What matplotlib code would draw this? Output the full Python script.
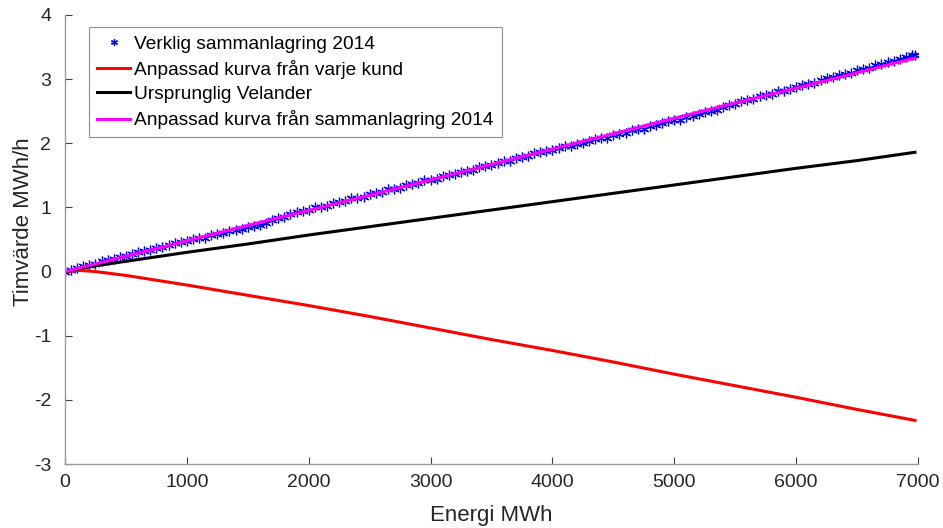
import matplotlib
matplotlib.use("Agg")
import matplotlib.pyplot as plt

plt.rcParams["font.family"] = ["Liberation Sans", "DejaVu Sans"]
plt.rcParams["axes.unicode_minus"] = False

# Measured aggregated load (hourly value vs. energy), 2014
energy_meas = [
    0, 50, 100, 150, 200, 250, 300, 350, 400, 450,
    500, 550, 600, 650, 700, 750, 800, 850, 900, 950,
    1000, 1050, 1100, 1150, 1200, 1250, 1300, 1350, 1400, 1450,
    1500, 1550, 1600, 1650, 1700, 1750, 1800, 1850, 1900, 1950,
    2000, 2050, 2100, 2150, 2200, 2250, 2300, 2350, 2400, 2450,
    2500, 2550, 2600, 2650, 2700, 2750, 2800, 2850, 2900, 2950,
    3000, 3050, 3100, 3150, 3200, 3250, 3300, 3350, 3400, 3450,
    3500, 3550, 3600, 3650, 3700, 3750, 3800, 3850, 3900, 3950,
    4000, 4050, 4100, 4150, 4200, 4250, 4300, 4350, 4400, 4450,
    4500, 4550, 4600, 4650, 4700, 4750, 4800, 4850, 4900, 4950,
    5000, 5050, 5100, 5150, 5200, 5250, 5300, 5350, 5400, 5450,
    5500, 5550, 5600, 5650, 5700, 5750, 5800, 5850, 5900, 5950,
    6000, 6050, 6100, 6150, 6200, 6250, 6300, 6350, 6400, 6450,
    6500, 6550, 6600, 6650, 6700, 6750, 6800, 6850, 6900, 6950,
    6975,
]
value_meas = [
    0.00, 0.03, 0.05, 0.09, 0.10, 0.12, 0.16, 0.18, 0.19, 0.23,
    0.25, 0.27, 0.31, 0.32, 0.33, 0.37, 0.39, 0.41, 0.45, 0.46,
    0.48, 0.51, 0.52, 0.53, 0.57, 0.59, 0.60, 0.64, 0.65, 0.66,
    0.70, 0.71, 0.73, 0.76, 0.80, 0.83, 0.85, 0.89, 0.93, 0.95,
    0.96, 1.00, 1.01, 1.03, 1.07, 1.08, 1.10, 1.14, 1.15, 1.17,
    1.21, 1.23, 1.24, 1.28, 1.29, 1.31, 1.35, 1.36, 1.38, 1.42,
    1.43, 1.45, 1.49, 1.50, 1.52, 1.56, 1.57, 1.59, 1.63, 1.65,
    1.66, 1.70, 1.72, 1.73, 1.77, 1.79, 1.80, 1.85, 1.86, 1.88,
    1.90, 1.93, 1.95, 1.96, 1.99, 2.01, 2.03, 2.07, 2.08, 2.09,
    2.13, 2.15, 2.16, 2.20, 2.22, 2.23, 2.27, 2.29, 2.31, 2.35,
    2.36, 2.37, 2.41, 2.43, 2.45, 2.49, 2.51, 2.52, 2.57, 2.59,
    2.61, 2.66, 2.68, 2.69, 2.73, 2.75, 2.77, 2.81, 2.82, 2.84,
    2.88, 2.91, 2.93, 2.94, 2.99, 3.01, 3.03, 3.07, 3.08, 3.10,
    3.14, 3.16, 3.18, 3.22, 3.24, 3.26, 3.29, 3.32, 3.35, 3.37,
    3.38,
]

# Fitted curves evaluated on a common energy grid
energy_fit = [0, 100, 250, 500, 1000, 1500, 2000, 2500, 3000, 3500,
              4000, 4500, 5000, 5500, 6000, 6500, 6975]
fit_each_customer = [0.00, 0.02, 0.00, -0.06, -0.21, -0.37, -0.53, -0.70,
                     -0.88, -1.06, -1.23, -1.41, -1.60, -1.78, -1.96,
                     -2.15, -2.32]
velander_original = [0.00, 0.04, 0.09, 0.16, 0.30, 0.43, 0.57, 0.70,
                      0.83, 0.96, 1.09, 1.22, 1.35, 1.48, 1.61, 1.73,
                      1.86]
fit_aggregated = [0.00, 0.05, 0.12, 0.24, 0.48, 0.72, 0.955, 1.19, 1.43,
                  1.67, 1.91, 2.15, 2.39, 2.63, 2.86, 3.10, 3.33]

series_labels = [
    "Verklig sammanlagring 2014",
    "Anpassad kurva från varje kund",
    "Ursprunglig Velander",
    "Anpassad kurva från sammanlagring 2014",
]
x_ticks = [0, 1000, 2000, 3000, 4000, 5000, 6000, 7000]
y_ticks = [-3, -2, -1, 0, 1, 2, 3, 4]

fig = plt.figure(figsize=(9.43, 5.28), dpi=100)
ax = fig.add_axes([0.0689, 0.1212, 0.9046, 0.8504])

# asterisk marker: six arms
ax.plot(energy_meas, value_meas, linestyle="none", marker=(6, 2, 0),
        markersize=7, markeredgewidth=0.9, color="#0000ff",
        label=series_labels[0])
ax.plot(energy_fit, fit_each_customer, color="#ff0000", linewidth=2.2,
        label=series_labels[1])
ax.plot(energy_fit, velander_original, color="#000000", linewidth=2.2,
        label=series_labels[2])
ax.plot(energy_fit, fit_aggregated, color="#ff00ff", linewidth=2.2,
        label=series_labels[3])

ax.set_xlim(0, 7000)
ax.set_ylim(-3, 4)
ax.set_xticks(x_ticks)
ax.set_yticks(y_ticks)

ax.spines["top"].set_visible(False)
ax.spines["right"].set_visible(False)
for side in ("left", "bottom"):
    ax.spines[side].set_color("#9a9a9a")
    ax.spines[side].set_linewidth(1.0)

ax.tick_params(axis="both", direction="in", length=5, width=0.8,
               color="#404040", labelcolor="#262626", labelsize=14)
ax.tick_params(axis="x", pad=7)
ax.tick_params(axis="y", pad=10)

ax.set_xlabel("Energi MWh", fontsize=16, color="#262626", labelpad=10)
ax.set_ylabel("Timvärde MWh/h", fontsize=16, color="#262626")
ax.yaxis.set_label_coords(-0.036, 0.54)

leg = ax.legend(loc="upper left", bbox_to_anchor=(0.028, 0.973),
                borderaxespad=0, fontsize=13.8, numpoints=1,
                handlelength=1.75, handletextpad=0.2, labelspacing=0.37,
                borderpad=0.42, fancybox=False, framealpha=1,
                edgecolor="#8c8c8c")
leg.get_frame().set_linewidth(0.8)
leg.legend_handles[0].set_markersize(5)

fig.savefig("out.png", dpi=100)
